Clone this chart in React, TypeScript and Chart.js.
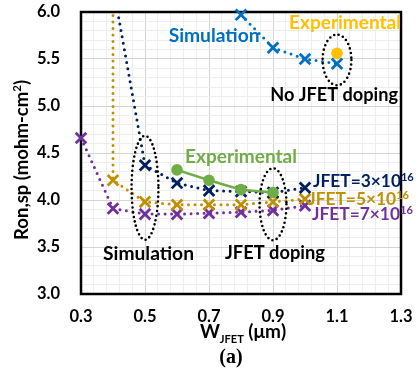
import React, { useEffect, useRef } from 'react';
import { Chart, registerables } from 'chart.js';

Chart.register(...registerables);

const FONT = "Lato, 'Open Sans', sans-serif";
const SERIF = "'Liberation Serif', 'DejaVu Serif', serif";

// ---- data ----
const simNoDopingX = [0.8, 0.9, 1.0, 1.1];
const simNoDopingY = [5.97, 5.62, 5.5, 5.45];
const expNoDopingX = [1.1];
const expNoDopingY = [5.56];
const jfet3X = [0.4, 0.5, 0.6, 0.7, 0.8, 0.9, 1.0];
const jfet3Y = [6.28, 4.37, 4.18, 4.1, 4.09, 4.08, 4.13];
const jfet5X = [0.4, 0.4, 0.5, 0.6, 0.7, 0.8, 0.9, 1.0];
const jfet5Y = [7.0, 4.21, 3.98, 3.95, 3.95, 3.95, 3.98, 4.01];
const jfet7X = [0.3, 0.4, 0.5, 0.6, 0.7, 0.8, 0.9, 1.0];
const jfet7Y = [4.66, 3.91, 3.85, 3.85, 3.86, 3.87, 3.89, 3.94];
const expDopingX = [0.6, 0.7, 0.8, 0.9];
const expDopingY = [4.32, 4.21, 4.11, 4.08];

const xTickLabels = ['0.3', '0.5', '0.7', '0.9', '1.1', '1.3'];
const yTickLabels = ['3.0', '3.5', '4.0', '4.5', '5.0', '5.5', '6.0'];

const BLUE = '#0070C0';
const NAVY = '#002060';
const GOLD = '#BF9000';
const PURPLE = '#7030A0';
const GREEN = '#70AD47';
const ORANGE = '#FFC000';

// annotation texts (data coordinates; x = centre, y = baseline)
const notes = [
  { text: 'Simulation', x: 0.716, y: 5.686, color: BLUE, w: 91 },
  { text: 'Experimental', x: 1.125, y: 5.814, color: ORANGE, w: 112 },
  { text: 'No JFET doping', x: 1.091, y: 5.053, color: '#000', w: 128 },
  { text: 'Experimental', x: 0.8, y: 4.39, color: GREEN, w: 112 },
  { text: 'Simulation', x: 0.511, y: 3.362, color: '#000', w: 91 },
  { text: 'JFET doping', x: 0.906, y: 3.372, color: '#000', w: 100 },
];
// doping labels (x = left, y = baseline)
const dopingLabels = [
  { main: 'JFET=3×10', sup: '16', x: 1.025, y: 4.141, color: NAVY },
  { main: 'JFET=5×10', sup: '16', x: 1.01, y: 3.947, color: GOLD },
  { main: 'JFET=7×10', sup: '16', x: 1.022, y: 3.787, color: PURPLE },
];
// dotted ellipses (data coordinates)
const ellipses = [
  { cx: 1.1, cy: 5.49, rx: 0.045, ry: 0.27 },
  { cx: 0.5, cy: 4.13, rx: 0.042, ry: 0.553 },
  { cx: 0.9, cy: 3.955, rx: 0.042, ry: 0.383 },
];

const zip = (xs: number[], ys: number[]) => xs.map((x, i) => ({ x, y: ys[i] }));

function fitSize(ctx: CanvasRenderingContext2D, text: string, w: number, family: string) {
  ctx.font = `bold 20px ${family}`;
  const m = ctx.measureText(text).width;
  return (20 * w) / m;
}

type Seg = { t: string; size: number; dy?: number };
function drawRich(ctx: CanvasRenderingContext2D, segs: Seg[], x: number, y: number, align: 'left' | 'center', family: string) {
  let total = 0;
  const widths = segs.map((s) => {
    ctx.font = `bold ${s.size}px ${family}`;
    const w = ctx.measureText(s.t).width;
    total += w;
    return w;
  });
  let cx = align === 'center' ? x - total / 2 : x;
  ctx.textAlign = 'left';
  ctx.textBaseline = 'alphabetic';
  segs.forEach((s, i) => {
    ctx.font = `bold ${s.size}px ${family}`;
    ctx.fillText(s.t, cx, y + (s.dy || 0));
    cx += widths[i];
  });
}

const overlay = {
  id: 'overlay',
  beforeDatasetsDraw(chart: any) {
    const { ctx, chartArea: a } = chart;
    ctx.save();
    ctx.strokeStyle = '#000';
    ctx.lineWidth = 2.5;
    ctx.strokeRect(a.left, a.top, a.right - a.left, a.bottom - a.top);
    ctx.restore();
  },
  afterDraw(chart: any) {
    const { ctx } = chart;
    const xs = chart.scales.x;
    const ys = chart.scales.y;
    ctx.save();
    // ellipses
    ctx.strokeStyle = '#000';
    ctx.lineWidth = 2.6;
    ctx.lineCap = 'round';
    ctx.setLineDash([0, 4.6]);
    ellipses.forEach((e) => {
      const cx = xs.getPixelForValue(e.cx);
      const cy = ys.getPixelForValue(e.cy);
      const rx = Math.abs(xs.getPixelForValue(e.cx + e.rx) - cx);
      const ry = Math.abs(ys.getPixelForValue(e.cy + e.ry) - cy);
      ctx.beginPath();
      ctx.ellipse(cx, cy, rx, ry, 0, 0, Math.PI * 2);
      ctx.stroke();
    });
    ctx.setLineDash([]);
    // notes
    ctx.textAlign = 'center';
    ctx.textBaseline = 'alphabetic';
    notes.forEach((n) => {
      const size = fitSize(ctx, n.text, n.w, FONT);
      ctx.font = `bold ${size}px ${FONT}`;
      ctx.fillStyle = n.color;
      ctx.textAlign = 'center';
      ctx.fillText(n.text, xs.getPixelForValue(n.x), ys.getPixelForValue(n.y));
    });
    dopingLabels.forEach((d) => {
      const size = fitSize(ctx, d.main, 88, FONT);
      ctx.fillStyle = d.color;
      drawRich(
        ctx,
        [
          { t: d.main, size },
          { t: d.sup, size: size * 0.64, dy: -6 },
        ],
        xs.getPixelForValue(d.x),
        ys.getPixelForValue(d.y),
        'left',
        FONT
      );
    });
    // axis titles
    ctx.fillStyle = '#000';
    ctx.save();
    ctx.translate(28, 160);
    ctx.rotate(-Math.PI / 2);
    drawRich(
      ctx,
      [
        { t: 'Ron,sp (mohm-cm', size: 18.5 },
        { t: '2', size: 11.5, dy: -7 },
        { t: ')', size: 18.5 },
      ],
      0,
      0,
      'center',
      FONT
    );
    ctx.restore();
    const midX = (chart.chartArea.left + chart.chartArea.right) / 2 + 2;
    drawRich(
      ctx,
      [
        { t: 'W', size: 19 },
        { t: 'JFET', size: 11, dy: 5 },
        { t: ' (μm)', size: 19 },
      ],
      midX,
      338,
      'center',
      FONT
    );
    ctx.font = `bold 20px ${SERIF}`;
    ctx.textAlign = 'center';
    ctx.fillText('(a)', 231, 363);
    ctx.restore();
  },
};

const isIn = (v: number, labels: string[]) => labels.includes(v.toFixed(1)) && Math.abs(v - parseFloat(v.toFixed(1))) < 1e-6;

export default function App() {
  const ref = useRef<HTMLCanvasElement | null>(null);
  useEffect(() => {
    if (!ref.current) return;
    const dotted = { borderDash: [0, 6.5], borderCapStyle: 'round', borderWidth: 3 };
    const cross = (color: string, ys: number[]) => ({
      pointStyle: 'crossRot',
      pointRadius: ys.map((v) => (v > 6 ? 0 : 7.5)),
      pointBorderWidth: 2.8,
      pointBorderColor: color,
      pointBackgroundColor: color,
      borderColor: color,
      backgroundColor: color,
    });
    const chart = new Chart(ref.current, {
      type: 'scatter',
      data: {
        datasets: [
          {
            label: 'Experimental (JFET doping)',
            data: zip(expDopingX, expDopingY),
            showLine: true,
            borderColor: GREEN,
            backgroundColor: GREEN,
            borderWidth: 2.5,
            pointStyle: 'circle',
            pointRadius: 5.8,
            pointBorderWidth: 0,
            pointBackgroundColor: GREEN,
            clip: 10,
          } as any,
          {
            label: 'Experimental (no JFET doping)',
            data: zip(expNoDopingX, expNoDopingY),
            showLine: false,
            pointStyle: 'circle',
            pointRadius: 5.8,
            pointBorderWidth: 0,
            pointBackgroundColor: ORANGE,
            backgroundColor: ORANGE,
            borderColor: ORANGE,
            clip: 10,
          },
          {
            label: 'Simulation (no JFET doping)',
            data: zip(simNoDopingX, simNoDopingY),
            showLine: true,
            ...dotted,
            ...cross(BLUE, simNoDopingY),
            clip: 10,
          },
          {
            label: 'JFET=3e16',
            data: zip(jfet3X, jfet3Y),
            showLine: true,
            ...dotted,
            ...cross(NAVY, jfet3Y),
            clip: { left: 10, top: 0, right: 10, bottom: 10 },
          },
          {
            label: 'JFET=5e16',
            data: zip(jfet5X, jfet5Y),
            showLine: true,
            ...dotted,
            ...cross(GOLD, jfet5Y),
            clip: { left: 10, top: 0, right: 10, bottom: 10 },
          },
          {
            label: 'JFET=7e16',
            data: zip(jfet7X, jfet7Y),
            showLine: true,
            ...dotted,
            ...cross(PURPLE, jfet7Y),
            clip: 10,
          },
        ] as any,
      },
      options: {
        animation: false,
        responsive: false,
        devicePixelRatio: 1,
        events: [],
        layout: { padding: { left: 0, top: 12, right: 19, bottom: 0 } },
        plugins: { legend: { display: false }, tooltip: { enabled: false } },
        scales: {
          x: {
            type: 'linear',
            min: 0.3,
            max: 1.3,
            afterFit: (s: any) => {
              s.height = 82;
            },
            border: { display: false },
            grid: {
              drawTicks: true,
              tickLength: 13,
              tickColor: 'rgba(0,0,0,0)',
              lineWidth: 1,
              color: (c: any) => (c.tick && isIn(c.tick.value, xTickLabels) ? '#d4d4d4' : '#eeeeee'),
            },
            ticks: {
              stepSize: 0.04,
              autoSkip: false,
              maxRotation: 0,
              padding: 0,
              color: '#000',
              font: { family: FONT, size: 16.5, weight: 'bold' },
              callback: (v: any) => (isIn(Number(v), xTickLabels) ? Number(v).toFixed(1) : ''),
            },
          },
          y: {
            type: 'linear',
            min: 3,
            max: 6,
            afterFit: (s: any) => {
              s.width = 81;
            },
            border: { display: false },
            grid: {
              drawTicks: true,
              tickLength: 21,
              tickColor: 'rgba(0,0,0,0)',
              lineWidth: 1,
              color: (c: any) => (c.tick && isIn(c.tick.value, yTickLabels) ? '#d4d4d4' : '#eeeeee'),
            },
            ticks: {
              stepSize: 0.1,
              autoSkip: false,
              padding: 0,
              color: '#000',
              font: { family: FONT, size: 16.5, weight: 'bold' },
              callback: (v: any) => (isIn(Number(v), yTickLabels) ? Number(v).toFixed(1) : ''),
            },
          },
        },
      } as any,
      plugins: [overlay],
    });
    return () => chart.destroy();
  }, []);
  return (
    <div style={{ position: 'fixed', left: 0, top: 0, width: 420, height: 376, background: '#fff' }}>
      <canvas ref={ref} width={420} height={376} style={{ width: 420, height: 376, display: 'block' }} />
    </div>
  );
}
